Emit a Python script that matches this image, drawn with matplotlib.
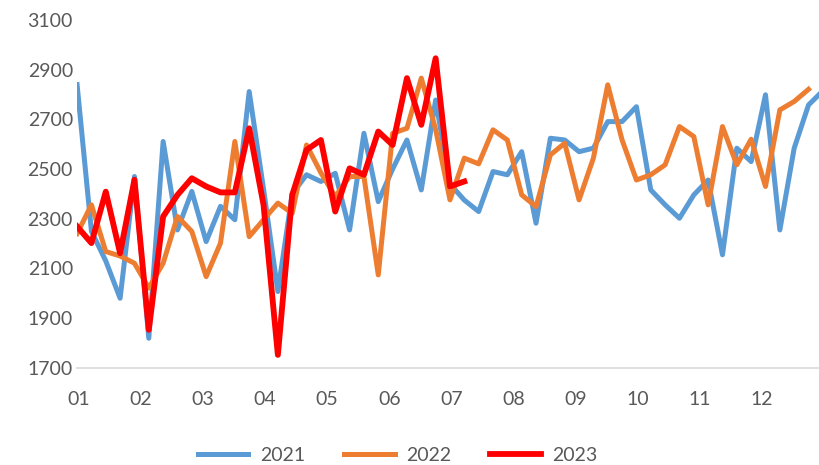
import numpy as np
import matplotlib
matplotlib.use("Agg")
import matplotlib.pyplot as plt

plt.rcParams['font.family'] = ['Lato', 'DejaVu Sans']

# weekly values, one point per week
y2021 = [2840, 2250, 2130, 1980, 2470, 1819, 2611, 2255, 2410, 2208,
         2350, 2296, 2812, 2420, 2007, 2400, 2477, 2450, 2483, 2255,
         2644, 2369, 2500, 2617, 2416, 2778, 2440, 2375, 2329, 2490,
         2477, 2570, 2282, 2624, 2617, 2570, 2584, 2691, 2691, 2751,
         2416, 2356, 2302, 2396, 2456, 2155, 2584, 2530, 2799, 2255,
         2584, 2758, 2815]
y2022 = [2240, 2356, 2168, 2150, 2121, 2021, 2121, 2309, 2249, 2067,
         2202, 2611, 2228, 2296, 2363, 2322, 2597, 2485, 2389, 2470,
         2470, 2074, 2644, 2664, 2866, 2660, 2376, 2544, 2521, 2658,
         2617, 2396, 2349, 2557, 2604, 2376, 2544, 2839, 2617, 2456,
         2477, 2517, 2671, 2631, 2356, 2671, 2517, 2620, 2430, 2738,
         2772, 2821]
y2023 = [2269, 2202, 2409, 2161, 2457, 1853, 2309, 2396, 2463, 2430,
         2406, 2406, 2664, 2356, 1752, 2396, 2577, 2617, 2329, 2503,
         2477, 2651, 2597, 2866, 2678, 2946, 2430, 2450]
months = ['01', '02', '03', '04', '05', '06', '07', '08', '09', '10', '11', '12']

fig = plt.figure(figsize=(8.2, 4.65), dpi=100)
ax = fig.add_axes([0.094, 0.209, 0.906, 0.748])

ax.plot(np.arange(len(y2021)), y2021, color='#5B9BD5', lw=3.6, label='2021', solid_joinstyle='round')
ax.plot(np.arange(len(y2022)), y2022, color='#ED7D31', lw=3.6, label='2022', solid_joinstyle='round')
ax.plot(np.arange(len(y2023)), y2023, color='#FF0000', lw=4.2, label='2023', solid_joinstyle='round')

ax.set_ylim(1700, 3100)
ax.set_yticks(np.arange(1700, 3101, 200))
ax.set_xlim(0, 51.8)
ax.set_xticks(np.arange(12) * 52 / 12 + 0.1)
ax.set_xticklabels(months)
ax.tick_params(length=0, labelsize=14, colors='#595959')
ax.tick_params(axis='x', pad=17)
ax.tick_params(axis='y', pad=3)

for s in ['top', 'right', 'left']:
    ax.spines[s].set_visible(False)
ax.spines['bottom'].set_color('#D9D9D9')
ax.spines['bottom'].set_linewidth(1.2)

fig.legend(loc='lower center', ncol=3, frameon=False, fontsize=14,
           bbox_to_anchor=(0.485, -0.035), handlelength=2.6, handletextpad=0.6,
           columnspacing=2.0, labelcolor='#595959')

plt.savefig('out.png', dpi=100)
